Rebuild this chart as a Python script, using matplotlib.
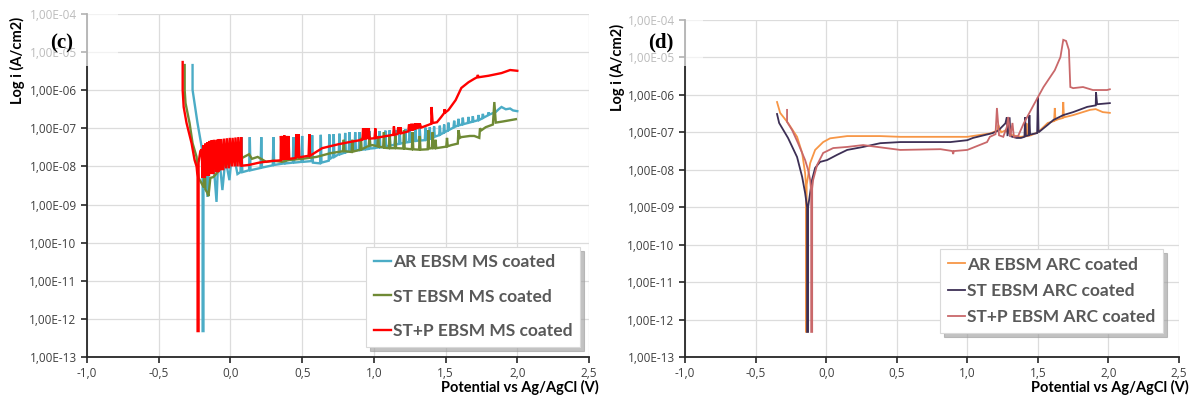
import numpy as np
import matplotlib
matplotlib.use("Agg")
import matplotlib.pyplot as plt
from matplotlib.patches import Rectangle
from matplotlib.ticker import FixedLocator, FuncFormatter, NullLocator

# potential (V vs Ag/AgCl), log10 of current density (A/cm2)
ms_ar = [(-0.264, -5.34), (-0.264, -5.99), (-0.25, -6.35), (-0.243, -6.52), (-0.23, -6.85), (-0.215, -7.18),
         (-0.20, -7.5), (-0.194, -7.6), (-0.194, -12.32), (-0.188, -12.32), (-0.188, -7.7), (-0.18, -7.65),
         (-0.16, -8.8), (-0.146, -7.6), (-0.125, -7.55), (-0.097, -8.93), (-0.083, -7.57), (-0.056, -8.62),
         (-0.035, -7.8), (-0.007, -8.36), (0.014, -7.5), (0.049, -8.2), (0.07, -8.15), (0.076, -7.23),
         (0.083, -8.15), (0.13, -8.1), (0.135, -7.23), (0.14, -8.1), (0.21, -8.04), (0.215, -7.23),
         (0.22, -8.03), (0.295, -7.97), (0.30, -7.23), (0.305, -7.96), (0.375, -7.92), (0.38, -7.23),
         (0.385, -7.92), (0.435, -7.9), (0.44, -7.23), (0.445, -7.9), (0.495, -7.88), (0.50, -7.2),
         (0.505, -7.88), (0.565, -7.86), (0.57, -7.18), (0.575, -7.9), (0.625, -7.92), (0.63, -7.17),
         (0.635, -7.9), (0.685, -7.85), (0.69, -7.16), (0.695, -7.8), (0.715, -7.75), (0.72, -7.15),
         (0.725, -7.75), (0.755, -7.68), (0.76, -7.14), (0.765, -7.68), (0.795, -7.64), (0.80, -7.12),
         (0.805, -7.63), (0.825, -7.6), (0.83, -7.1), (0.835, -7.6), (0.865, -7.58), (0.87, -7.1),
         (0.875, -7.58), (0.895, -7.57), (0.90, -7.1), (0.905, -7.57), (0.935, -7.55), (0.94, -7.08),
         (0.945, -7.55), (0.965, -7.54), (0.97, -7.08), (0.975, -7.53), (1.005, -7.52), (1.01, -7.08),
         (1.015, -7.51), (1.035, -7.5), (1.04, -7.07), (1.045, -7.5), (1.075, -7.48), (1.08, -7.06),
         (1.085, -7.47), (1.105, -7.46), (1.11, -7.05), (1.115, -7.45), (1.145, -7.43), (1.15, -7.04),
         (1.155, -7.42), (1.175, -7.41), (1.18, -7.03), (1.185, -7.4), (1.215, -7.38), (1.22, -7.02),
         (1.225, -7.37), (1.245, -7.36), (1.25, -7.01), (1.255, -7.35), (1.285, -7.33), (1.29, -7.0),
         (1.295, -7.33), (1.315, -7.32), (1.32, -7.0), (1.325, -7.32), (1.355, -7.31), (1.36, -6.98),
         (1.365, -7.3), (1.385, -7.28), (1.39, -6.97), (1.395, -7.27), (1.415, -7.24), (1.42, -6.95),
         (1.425, -7.22), (1.455, -7.18), (1.46, -6.93), (1.465, -7.16), (1.485, -7.12), (1.49, -6.9),
         (1.495, -7.1), (1.515, -7.06), (1.52, -6.85), (1.525, -7.04), (1.555, -6.98), (1.56, -6.8),
         (1.565, -6.96), (1.585, -6.93), (1.59, -6.75), (1.595, -6.92), (1.615, -6.9), (1.62, -6.72),
         (1.625, -6.89), (1.655, -6.86), (1.66, -6.7), (1.665, -6.85), (1.685, -6.83), (1.69, -6.68),
         (1.695, -6.82), (1.725, -6.79), (1.73, -6.65), (1.735, -6.78), (1.755, -6.74), (1.76, -6.62),
         (1.765, -6.72), (1.795, -6.66), (1.80, -6.58), (1.805, -6.64), (1.85, -6.57), (1.87, -6.5),
         (1.89, -6.44), (1.92, -6.5), (1.95, -6.48), (1.97, -6.53), (2.0, -6.55)]

ms_st = [(-0.319, -5.34), (-0.319, -6.0), (-0.313, -6.34), (-0.285, -6.86), (-0.264, -7.39), (-0.236, -7.75),
         (-0.229, -8.1), (-0.222, -8.3), (-0.20, -8.45), (-0.185, -8.55), (-0.18, -7.6), (-0.175, -8.6),
         (-0.16, -8.7), (-0.153, -8.78), (-0.14, -8.3), (-0.12, -8.28), (-0.10, -8.2), (-0.08, -8.1),
         (-0.06, -8.0), (-0.03, -7.95), (0.0, -7.9), (0.05, -7.82), (0.08, -7.78), (0.11, -7.72),
         (0.13, -7.68), (0.15, -7.8), (0.19, -7.75), (0.25, -7.88), (0.3, -7.85), (0.36, -7.88),
         (0.41, -7.83), (0.5, -7.8), (0.6, -7.75), (0.7, -7.65), (0.785, -7.6), (0.79, -7.3),
         (0.795, -7.6), (0.845, -7.62), (0.85, -7.3), (0.855, -7.61), (0.905, -7.56), (0.91, -7.25),
         (0.915, -7.55), (0.965, -7.46), (0.97, -7.2), (0.975, -7.45), (0.99, -7.44), (1.025, -7.47),
         (1.03, -7.2), (1.035, -7.48), (1.065, -7.5), (1.07, -7.1), (1.075, -7.51), (1.105, -7.52),
         (1.11, -7.2), (1.115, -7.52), (1.145, -7.52), (1.15, -7.2), (1.155, -7.52), (1.205, -7.53),
         (1.21, -7.05), (1.215, -7.53), (1.265, -7.55), (1.27, -7.1), (1.275, -7.55), (1.315, -7.56),
         (1.32, -7.2), (1.325, -7.56), (1.375, -7.55), (1.38, -7.05), (1.385, -7.53), (1.405, -7.52),
         (1.41, -7.1), (1.415, -7.52), (1.425, -7.52), (1.43, -7.3), (1.435, -7.52), (1.505, -7.48),
         (1.51, -7.25), (1.515, -7.47), (1.54, -7.44), (1.585, -7.4), (1.59, -7.05), (1.60, -7.25),
         (1.61, -7.23), (1.67, -7.2), (1.70, -7.2), (1.735, -7.25), (1.74, -7.0), (1.75, -7.05),
         (1.78, -6.97), (1.83, -6.9), (1.84, -6.31), (1.85, -6.85), (1.9, -6.82), (1.99, -6.76)]

ms_stp = [(-0.333, -5.26), (-0.333, -6.0), (-0.326, -6.44), (-0.306, -6.86), (-0.271, -7.39), (-0.25, -7.83),
          (-0.236, -8.0), (-0.229, -8.28), (-0.229, -12.32), (-0.222, -12.32), (-0.222, -7.9), (-0.21, -7.6),
          (-0.20, -7.55), (-0.195, -8.3), (-0.19, -7.45), (-0.18, -8.3), (-0.175, -7.4), (-0.165, -8.25),
          (-0.16, -7.36), (-0.15, -8.25), (-0.145, -7.33), (-0.135, -8.2), (-0.13, -7.31), (-0.12, -8.2),
          (-0.115, -7.3), (-0.10, -8.15), (-0.095, -7.3), (-0.085, -8.15), (-0.08, -7.28), (-0.07, -8.1),
          (-0.065, -7.28), (-0.05, -8.1), (-0.045, -7.27), (-0.03, -8.05), (-0.025, -7.26), (-0.01, -8.05),
          (-0.005, -7.25), (0.01, -8.0), (0.015, -7.25), (0.03, -8.0), (0.035, -7.24), (0.05, -8.0),
          (0.055, -7.23), (0.07, -8.0), (0.075, -7.23), (0.08, -7.98), (0.13, -7.96), (0.2, -7.9),
          (0.28, -7.86), (0.35, -7.84), (0.352, -7.2), (0.36, -7.84), (0.365, -7.2), (0.37, -7.83),
          (0.375, -7.18), (0.385, -7.82), (0.39, -7.2), (0.40, -7.82), (0.405, -7.2), (0.41, -7.8),
          (0.455, -7.78), (0.46, -7.15), (0.47, -7.77), (0.475, -7.15), (0.48, -7.76), (0.545, -7.72),
          (0.55, -7.15), (0.555, -7.72), (0.64, -7.52), (0.75, -7.42), (0.83, -7.36), (0.92, -7.3),
          (0.925, -7.0), (0.93, -7.29), (0.935, -7.0), (0.945, -7.29), (0.95, -7.0), (0.96, -7.28),
          (0.965, -7.0), (0.97, -7.27), (1.005, -7.26), (1.01, -7.0), (1.015, -7.25), (1.135, -7.17),
          (1.14, -6.95), (1.145, -7.17), (1.165, -7.15), (1.17, -6.97), (1.18, -7.14), (1.185, -6.97),
          (1.19, -7.13), (1.24, -7.08), (1.245, -6.9), (1.255, -7.07), (1.26, -6.88), (1.27, -7.06),
          (1.275, -6.88), (1.285, -7.04), (1.29, -6.87), (1.30, -7.02), (1.305, -6.87), (1.315, -7.0),
          (1.32, -6.87), (1.33, -6.98), (1.38, -6.91), (1.40, -6.88), (1.402, -6.44), (1.41, -6.86),
          (1.44, -6.84), (1.47, -6.7), (1.49, -6.6), (1.492, -6.5), (1.50, -6.58), (1.52, -6.52),
          (1.57, -6.26), (1.61, -5.94), (1.66, -5.79), (1.70, -5.7), (1.72, -5.66), (1.725, -5.6),
          (1.73, -5.66), (1.80, -5.62), (1.89, -5.55), (1.95, -5.47), (2.0, -5.49)]

arc_ar = [(-0.348, -6.19), (-0.326, -6.48), (-0.27, -6.75), (-0.206, -7.12), (-0.17, -7.55), (-0.149, -8.09),
          (-0.142, -8.5), (-0.142, -12.33), (-0.138, -12.33), (-0.138, -8.4), (-0.113, -7.82), (-0.078, -7.47),
          (-0.021, -7.26), (0.028, -7.16), (0.149, -7.1), (0.383, -7.1), (0.525, -7.12), (1.0, -7.12),
          (1.16, -7.03), (1.215, -6.95), (1.22, -6.8), (1.24, -7.0), (1.27, -6.95), (1.32, -7.08),
          (1.38, -7.12), (1.415, -7.1), (1.42, -6.76), (1.425, -7.1), (1.45, -7.08), (1.5, -7.0),
          (1.57, -6.75), (1.615, -6.7), (1.62, -6.35), (1.625, -6.68), (1.645, -6.65), (1.675, -6.62),
          (1.68, -6.19), (1.685, -6.6), (1.75, -6.54), (1.87, -6.40), (1.91, -6.38), (1.96, -6.46),
          (2.01, -6.48)]

arc_st = [(-0.348, -6.51), (-0.333, -6.75), (-0.27, -7.15), (-0.206, -7.66), (-0.17, -8.19), (-0.149, -8.62),
          (-0.135, -9.0), (-0.135, -12.33), (-0.128, -12.33), (-0.128, -9.0), (-0.10, -8.27), (-0.078, -7.95),
          (-0.043, -7.79), (0.007, -7.74), (0.078, -7.6), (0.149, -7.47), (0.262, -7.39), (0.383, -7.29),
          (0.525, -7.26), (0.88, -7.26), (1.0, -7.21), (1.04, -7.15), (1.18, -7.02), (1.22, -6.95),
          (1.27, -6.76), (1.28, -6.6), (1.285, -7.1), (1.30, -6.6), (1.305, -7.1), (1.32, -7.12),
          (1.35, -7.15), (1.38, -7.15), (1.405, -7.12), (1.41, -6.6), (1.415, -7.1), (1.435, -7.08),
          (1.44, -6.54), (1.445, -7.06), (1.495, -7.02), (1.50, -6.06), (1.505, -7.0), (1.57, -6.8),
          (1.61, -6.67), (1.68, -6.54), (1.75, -6.46), (1.85, -6.32), (1.91, -6.28), (1.912, -5.93),
          (1.92, -6.25), (2.01, -6.22)]

arc_stp = [(-0.277, -6.40), (-0.277, -6.72), (-0.241, -6.94), (-0.199, -7.29), (-0.149, -7.74), (-0.128, -8.0),
           (-0.113, -8.27), (-0.106, -8.6), (-0.106, -12.33), (-0.099, -12.33), (-0.099, -8.5), (-0.092, -8.27),
           (-0.064, -7.87), (-0.021, -7.55), (0.05, -7.42), (0.149, -7.39), (0.262, -7.34), (0.362, -7.39),
           (0.525, -7.47), (0.81, -7.45), (0.895, -7.5), (0.9, -7.58), (0.905, -7.5), (1.0, -7.47),
           (1.14, -7.26), (1.16, -7.12), (1.2, -7.05), (1.21, -6.35), (1.225, -7.08), (1.255, -7.12),
           (1.28, -6.86), (1.29, -6.59), (1.305, -7.12), (1.32, -6.75), (1.33, -7.12), (1.36, -7.1),
           (1.40, -6.76), (1.47, -6.27), (1.54, -5.79), (1.62, -5.34), (1.66, -4.99), (1.68, -4.53),
           (1.70, -4.56), (1.72, -4.8), (1.73, -5.79), (1.75, -5.82), (1.82, -5.79), (1.89, -5.87),
           (1.99, -5.87), (2.01, -5.85)]

labels_ms = ["AR EBSM MS coated", "ST EBSM MS coated", "ST+P EBSM MS coated"]
labels_arc = ["AR EBSM ARC coated", "ST EBSM ARC coated", "ST+P EBSM ARC coated"]
colors_ms = ["#4bacc6", "#6f8a35", "#ff0000"]
colors_arc = ["#f79646", "#3d2f55", "#c9686a"]

x_ticks = [-1.0, -0.5, 0.0, 0.5, 1.0, 1.5, 2.0, 2.5]
y_ticks = [1e-13, 1e-12, 1e-11, 1e-10, 1e-9, 1e-8, 1e-7, 1e-6, 1e-5, 1e-4]

W, H = 1196, 399
fig = plt.figure(figsize=(W / 100, H / 100), dpi=100)

tick_font = ["Open Sans", "DejaVu Sans"]
bold_font = ["Lato", "DejaVu Sans"]


def setup(ax, series, labels, colors, lw, leg_anchor, leg_size, leg_spacing):
    for data, lab, col in zip(series, labels, colors):
        arr = np.array(data)
        ax.plot(arr[:, 0], 10 ** arr[:, 1], color=col, lw=lw, label=lab, solid_joinstyle="miter")
    ax.set_yscale("log")
    ax.set_xlim(-1.0, 2.5)
    ax.set_ylim(1e-13, 1e-4)
    ax.xaxis.set_major_locator(FixedLocator(x_ticks))
    ax.yaxis.set_major_locator(FixedLocator(y_ticks))
    ax.yaxis.set_minor_locator(NullLocator())
    ax.xaxis.set_major_formatter(FuncFormatter(lambda v, p: f"{v:.1f}".replace(".", ",")))
    ax.yaxis.set_major_formatter(FuncFormatter(lambda v, p: f"{v:.2E}".replace(".", ",")))
    ax.grid(True, color="#dcdcdc", lw=0.9)
    ax.set_axisbelow(True)
    for s in ["top", "right"]:
        ax.spines[s].set_visible(False)
    for s in ["left", "bottom"]:
        ax.spines[s].set_color("#262626")
        ax.spines[s].set_linewidth(1.3)
    ax.tick_params(direction="out", length=4, width=1.2, color="#262626",
                   labelsize=8.5, labelcolor="#404040")
    for t in ax.get_xticklabels() + ax.get_yticklabels():
        t.set_family(tick_font)
    ax.set_xlabel("Potential vs Ag/AgCl (V)", fontsize=10.5, fontweight="bold",
                  family=bold_font, ha="right", va="center")
    leg = ax.legend(loc="lower right", bbox_to_anchor=leg_anchor, frameon=True, fancybox=False,
                    shadow={"color": "#9a9a9a", "alpha": 0.6, "ox": 3, "oy": -3},
                    edgecolor="#d9d9d9", handlelength=1.0, handletextpad=0.1,
                    labelspacing=leg_spacing, borderpad=0.45,
                    prop={"family": bold_font, "weight": "bold", "size": leg_size})
    leg.get_frame().set_linewidth(0.8)
    for t in leg.get_texts():
        t.set_color("#595959")
    return ax


ax1 = fig.add_axes([87 / W, 1 - 357 / H, (589 - 87) / W, (357 - 14) / H])
setup(ax1, [ms_ar, ms_st, ms_stp], labels_ms, colors_ms, 1.7, (1.0, 0.005), 12.5, 1.05)
ax1.xaxis.set_label_coords(1.02, -0.088)

ax2 = fig.add_axes([685 / W, 1 - 357 / H, (1179 - 685) / W, (357 - 20) / H])
setup(ax2, [arc_ar, arc_st, arc_stp], labels_arc, colors_arc, 1.3, (0.985, 0.045), 12.5, 0.6)
ax2.xaxis.set_label_coords(1.02, -0.09)

# faded box behind the panel letters
fig.add_artist(Rectangle((0, 1 - 66 / H), 118 / W, 66 / H, transform=fig.transFigure,
                         facecolor="white", edgecolor="none", alpha=0.65, zorder=1))
fig.add_artist(Rectangle((600 / W, 1 - 66 / H), 103 / W, 66 / H, transform=fig.transFigure,
                         facecolor="white", edgecolor="none", alpha=0.65, zorder=1))

for xp, yp in [(17, 60), (617, 67)]:
    fig.text(xp / W, 1 - yp / H, "Log i (A/cm2)", rotation=90, ha="center", va="center",
             fontsize=10.5, fontweight="bold", family=bold_font, zorder=3)

fig.text(62 / W, 1 - 43 / H, "(c)", ha="center", va="center", fontsize=15,
         fontweight="bold", family=["Liberation Serif", "DejaVu Serif"], zorder=3)
fig.text(661 / W, 1 - 42 / H, "(d)", ha="center", va="center", fontsize=15,
         fontweight="bold", family=["Liberation Serif", "DejaVu Serif"], zorder=3)

fig.savefig("out.png", dpi=100)
